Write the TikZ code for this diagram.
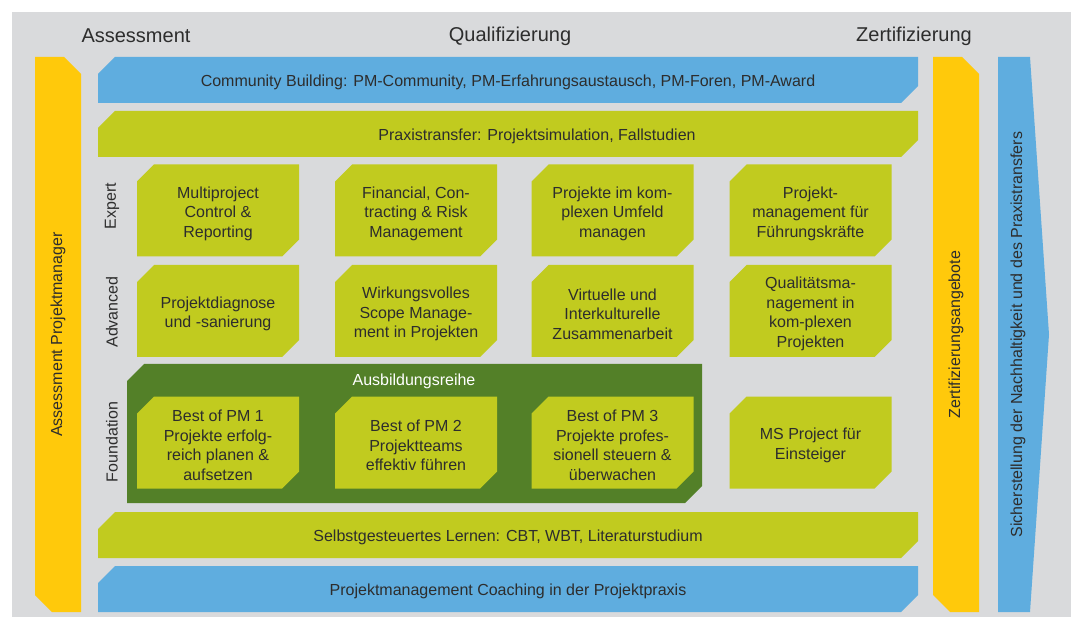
\documentclass[tikz,border=0pt]{standalone}
\usepackage{fontspec}
\setmainfont{Liberation Sans}
\usepackage{xcolor}
\usepackage{tikz}
\usetikzlibrary{positioning}

\definecolor{pmblue}{HTML}{5FADDF}
\definecolor{pmlime}{HTML}{C1CB1F}
\definecolor{pmyellow}{HTML}{FFC90B}
\definecolor{pmgreen}{HTML}{538028}
\definecolor{pmgray}{HTML}{D9DADC}
\definecolor{pmtext}{HTML}{2D2D2D}

\tikzset{
  % #1 colour, #2 free strip below the shape (moves the text down by #2/2)
  cutl/.style 2 args={path picture={
    \fill[#1] ([yshift=-17pt]path picture bounding box.north west)
      -- ([xshift=17pt]path picture bounding box.north west)
      -- (path picture bounding box.north east)
      -- ([yshift=#2+17pt]path picture bounding box.south east)
      -- ([xshift=-17pt,yshift=#2]path picture bounding box.south east)
      -- ([yshift=#2]path picture bounding box.south west) -- cycle;}},
  cutr/.style={path picture={
    \fill[#1] (path picture bounding box.north west)
      -- ([xshift=-17pt]path picture bounding box.north east)
      -- ([yshift=-17pt]path picture bounding box.north east)
      -- (path picture bounding box.south east)
      -- ([xshift=17pt]path picture bounding box.south west)
      -- ([yshift=17pt]path picture bounding box.south west) -- cycle;}},
  txt/.style={text=pmtext, font=\fontsize{16}{19.5}\selectfont},
  bar/.style={txt, cutl={#1}{4pt}, minimum width=820pt, minimum height=50pt, inner sep=0pt},
  tile/.style={txt, cutl={pmlime}{6pt}, minimum width=162pt, minimum height=98pt,
               inner sep=0pt, align=center},
  pillar/.style={cutr=pmyellow, minimum width=46pt, minimum height=555pt, inner sep=0pt},
  lvl/.style={txt, rotate=90},
  head/.style={text=pmtext, font=\fontsize{20}{24}\selectfont},
}

\begin{document}
\begin{tikzpicture}[x=1pt,y=-1pt]
\useasboundingbox (0,0) rectangle (1076,617);
\fill[pmgray] (12,12) rectangle (1071,617);

% headings
\node[head] (assess) at (136,36) {Assessment};
\node[head] (quali) at (510,36) {Qualifizierung};
\node[head] (zerti) at (914,36) {Zertifizierung};

% pillars left and right
\node[pillar] (apillar) at (58,334.5) {};
\node[lvl] (atext) at (apillar.center) {Assessment Projektmanager};
\node[pillar] (zpillar) at (956,334.5) {};
\node[lvl] (ztext) at (zpillar.center) {Zertifizierungsangebote};

% arrow on the right
\node[minimum width=51pt, minimum height=555pt, inner sep=0pt,
      path picture={\fill[pmblue] (path picture bounding box.north west)
        -- ([xshift=-19pt]path picture bounding box.north east)
        -- (path picture bounding box.east)
        -- ([xshift=-19pt]path picture bounding box.south east)
        -- (path picture bounding box.south west) -- cycle;}]
  (sarrow) at (1023.5,334.5) {};
\node[lvl] (stext) at (1018,334.5)
  {Sicherstellung der Nachhaltigkeit und des Praxistransfers};

% horizontal bars
\node[bar=pmblue] (community) at (508,82)
  {Community Building: PM-Community, PM-Erfahrungsaustausch, PM-Foren, PM-Award};
\node[bar=pmlime] (praxis) at (508,136)
  {\hspace*{58pt}Praxistransfer: Projektsimulation, Fallstudien};
\node[bar=pmlime] (selbst) at (508,537)
  {Selbstgesteuertes Lernen: CBT, WBT, Literaturstudium};
\node[bar=pmblue] (coaching) at (508,591)
  {Projektmanagement Coaching in der Projektpraxis};

% levels
\foreach \n/\y/\t in {expert/206/Expert, advanced/312/Advanced, foundation/442/Foundation}
  \node[lvl] (\n) at (112,\y) {\t};

% expert
\node[tile] (e1) at (218,213.5) {Multiproject\\Control \&\\Reporting};
\node[tile] (e2) at (416,213.5) {Financial, Con-\\tracting \& Risk\\Management};
\node[tile] (e3) at (612.5,213.5) {Projekte im kom-\\plexen Umfeld\\managen};
\node[tile] (e4) at (810.5,213.5) {Projekt-\\management für\\Führungskräfte};

% advanced
\node[tile] (a1) at (218,314) {Projektdiagnose\\und -sanierung};
\node[tile] (a2) at (416,314) {Wirkungsvolles\\Scope Manage-\\ment in Projekten};
\node[tile] (a3) at (612.5,314) {Virtuelle und\\Interkulturelle\\Zusammenarbeit};
\node[tile] (a4) at (810.5,314) {Qualitätsma-\\nagement in\\kom-plexen\\Projekten};

% foundation
\node[cutl={pmgreen}{0pt}, minimum width=575pt, minimum height=139pt, inner sep=0pt]
  (ausb) at (414.5,433.5) {};
\node[txt, text=white] (ausbtext) at (414,381) {Ausbildungsreihe};
\node[tile] (f1) at (218,445.5) {Best of PM 1\\Projekte erfolg-\\reich planen \&\\aufsetzen};
\node[tile] (f2) at (416,445.5) {Best of PM 2\\Projektteams\\effektiv führen};
\node[tile] (f3) at (612.5,445.5) {Best of PM 3\\Projekte profes-\\sionell steuern \&\\überwachen};
\node[tile] (f4) at (810.5,445.5) {MS Project für\\Einsteiger};
\end{tikzpicture}
\end{document}
